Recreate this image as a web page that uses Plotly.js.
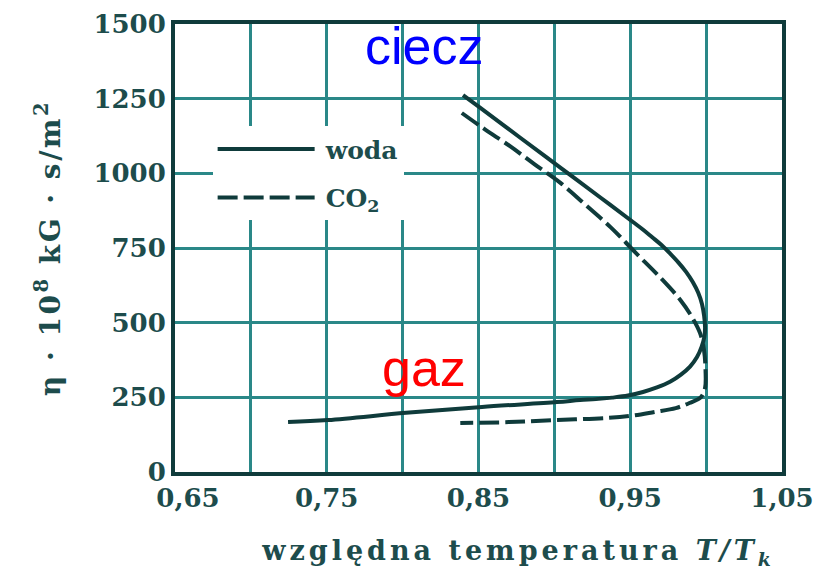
<!DOCTYPE html>
<html>
<head>
<meta charset="utf-8">
<script src="https://cdn.plot.ly/plotly-3.0.1.min.js"></script>
<style>
  html, body { margin: 0; padding: 0; background: #ffffff; }
  #chart { width: 836px; height: 581px; }
  .xtitle { letter-spacing: 4px; }
  .ytitle { letter-spacing: 2.5px; }
</style>
</head>
<body>
<div id="chart"></div>
<script>
// Water (woda) – solid curve, from the liquid branch down round the nose to the gas branch
const woda_x = [0.8398, 0.8510, 0.8773, 0.9037, 0.9301, 0.9518, 0.9583, 0.9645, 0.9706, 0.9763,
                0.9818, 0.9868, 0.9912, 0.9948, 0.9973, 0.9987, 0.9993, 0.9988, 0.9970, 0.9940,
                0.9894, 0.9834, 0.9762, 0.9676, 0.9584, 0.9485, 0.9380, 0.9274, 0.9169, 0.9017,
                0.8523, 0.8022, 0.7508, 0.7245];
const woda_y = [1262, 1220, 1120, 1020, 920, 837, 812, 786, 760, 731,
                701, 670, 636, 600, 562, 522, 482, 452, 419, 385,
                353, 326, 302, 283, 268, 256, 249, 244, 241, 234,
                218, 198, 174, 167];

// CO2 – dashed curve
const co2_x = [0.839, 0.854, 0.871, 0.887, 0.904, 0.920, 0.937, 0.953, 0.970, 0.983, 0.991, 0.996,
               0.9986, 0.9996, 0.9993, 0.9966, 0.989, 0.980, 0.966, 0.952, 0.935, 0.902, 0.870, 0.838];
const co2_y = [1202, 1148, 1090, 1030, 968, 897, 820, 737, 650, 576, 516, 465,
               408, 341, 281, 251, 231, 214, 201, 189, 181, 174, 167, 164];

const seriesNames = ["woda", "CO<sub>2</sub>"];

const xTickVals = [0.65, 0.75, 0.85, 0.95, 1.05];
const xTickText = ["0,65", "0,75", "0,85", "0,95", "1,05"];
const yTickVals = [0, 250, 500, 750, 1000, 1250, 1500];
const yTickText = ["0", "250", "500", "750", "1000", "1250", "1500"];

const phaseLabels = ["ciecz", "gaz"];
const phaseColors = ["#0000ff", "#ff0000"];
const phaseX = [0.814, 0.814];
const phaseY = [1425, 349];

const ink = "#0f3b3b";
const textInk = "#1d4c4c";
const gridCol = "#2a8888";
const serif = "DejaVu Serif, serif";

const traces = [
  {
    x: woda_x, y: woda_y, name: seriesNames[0], type: "scatter", mode: "lines",
    line: { color: ink, width: 4, shape: "spline", smoothing: 1 },
    legendgroup: "a"
  },
  {
    x: co2_x, y: co2_y, name: seriesNames[1], type: "scatter", mode: "lines",
    line: { color: ink, width: 4, dash: "20px,6px", shape: "spline", smoothing: 1 },
    legendgroup: "b"
  }
];

const layout = {
  width: 836, height: 581,
  margin: { l: 175, r: 54, t: 24, b: 109 },
  paper_bgcolor: "#ffffff",
  plot_bgcolor: "#ffffff",
  showlegend: true,
  legend: {
    x: 0.062, y: 0.772, xanchor: "left", yanchor: "top",
    bgcolor: "#ffffff", borderwidth: 0,
    itemwidth: 103, tracegroupgap: 13,
    font: { family: serif, size: 25, color: textInk, weight: "bold" }
  },
  xaxis: {
    range: [0.65, 1.05],
    tickmode: "array", tickvals: xTickVals, ticktext: xTickText,
    showgrid: true, gridcolor: gridCol, gridwidth: 3,
    minor: { tickmode: "linear", tick0: 0.65, dtick: 0.05, showgrid: true, gridcolor: gridCol, gridwidth: 3, ticks: "" },
    zeroline: false,
    showline: true, linecolor: ink, linewidth: 4, mirror: true,
    ticks: "",
    tickfont: { family: serif, size: 26, color: textInk, weight: "bold" },
    title: {
      text: "względna temperatura <i>T/T<sub>k</sub></i>",
      font: { family: serif, size: 27, color: textInk, weight: "bold" },
      standoff: 30
    },
    fixedrange: true
  },
  yaxis: {
    range: [0, 1500],
    tickmode: "array", tickvals: yTickVals, ticktext: yTickText,
    showgrid: true, gridcolor: gridCol, gridwidth: 3,
    zeroline: false,
    showline: true, linecolor: ink, linewidth: 4, mirror: true,
    ticks: "",
    tickfont: { family: serif, size: 26, color: textInk, weight: "bold" },
    title: {
      text: "η · 10<sup>8</sup> kG · s/m<sup>2</sup>",
      font: { family: serif, size: 28, color: textInk, weight: "bold" },
      standoff: 26
    },
    fixedrange: true
  },
  annotations: phaseLabels.map((t, i) => ({
    x: phaseX[i], y: phaseY[i], xref: "x", yref: "y",
    text: t, showarrow: false, xanchor: "center", yanchor: "middle",
    font: { family: "Liberation Sans, Arial, sans-serif", size: 52, color: phaseColors[i] }
  }))
};

Plotly.newPlot("chart", traces, layout, { displayModeBar: false, staticPlot: true }).then(() => {
  // longer legend line samples, as in the reference
  document.querySelectorAll("#chart .legend .legendlines path").forEach(p => {
    p.setAttribute("d", "M5,0h97");
  });
  // first x tick label sits a little right of its grid line in the reference
  const firstTick = document.querySelector("#chart .xtick text");
  if (firstTick) firstTick.setAttribute("x", parseFloat(firstTick.getAttribute("x") || 0) + 13);
  // x title is centred a little right of the plot centre in the reference
  const xt = document.querySelector("#chart .xtitle");
  if (xt) xt.setAttribute("x", parseFloat(xt.getAttribute("x") || 0) + 40);
});
</script>
</body>
</html>
